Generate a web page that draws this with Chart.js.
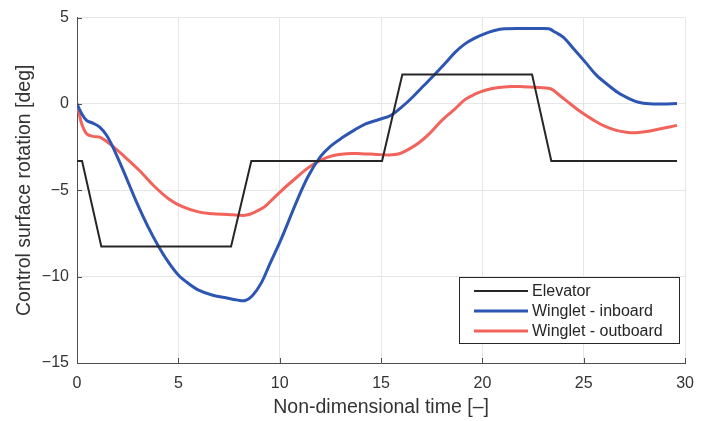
<!DOCTYPE html>
<html>
<head>
<meta charset="utf-8">
<script src="https://cdn.jsdelivr.net/npm/chart.js@4.4.1/dist/chart.umd.min.js"></script>
<style>
  html, body { margin: 0; padding: 0; background: #fff; }
  #wrap { width: 705px; height: 421px; }
</style>
</head>
<body>
<div id="wrap"><canvas id="rot"></canvas></div>
<script>
// values
const elevX = [0, 0.25, 1.2, 7.6, 8.6, 15.05, 16.05, 22.45, 23.4, 29.6];
const elevY = [-3.3, -3.3, -8.25, -8.25, -3.3, -3.3, 1.7, 1.7, -3.3, -3.3];

const inbX = [0, 0.2, 0.47, 0.8, 1.12, 1.45, 1.77, 2.3, 2.9, 3.5, 4.04, 4.5, 5.0, 5.5, 6.0, 6.7, 7.45, 7.94, 8.3, 8.65, 9.08, 9.5, 10.05, 10.86, 11.4, 12.0, 12.5, 13.13, 13.7, 14.27, 14.9, 15.49, 16.0, 16.55, 17.1, 17.68, 18.2, 18.65, 19.14, 19.6, 20.1, 20.6, 21.09, 22.0, 22.8, 23.28, 23.6, 24.0, 24.5, 25.15, 25.6, 26.12, 26.7, 27.26, 27.7, 28.24, 28.9, 29.6];
const inbY = [0, -0.5, -0.95, -1.12, -1.34, -1.8, -2.5, -3.9, -5.58, -7.1, -8.28, -9.15, -9.91, -10.4, -10.78, -11.08, -11.25, -11.36, -11.38, -11.1, -10.39, -9.3, -7.89, -5.58, -4.2, -3.07, -2.45, -1.92, -1.5, -1.14, -0.9, -0.66, -0.2, 0.39, 1.05, 1.75, 2.4, 2.99, 3.48, 3.8, 4.06, 4.25, 4.35, 4.37, 4.37, 4.35, 4.15, 3.86, 3.2, 2.32, 1.7, 1.17, 0.65, 0.3, 0.1, 0.01, 0.0, 0.03];

const outX = [0, 0.1, 0.23, 0.47, 0.8, 1.12, 1.6, 2.3, 3.07, 3.8, 4.53, 5.2, 5.99, 6.7, 7.45, 7.94, 8.3, 8.7, 9.24, 9.56, 10.2, 10.86, 11.4, 12.0, 12.6, 13.3, 14.0, 14.76, 15.4, 15.9, 16.4, 16.87, 17.4, 18.0, 18.65, 19.14, 19.6, 20.1, 20.8, 21.42, 22.0, 22.55, 23.36, 23.8, 24.33, 24.9, 25.5, 26.0, 26.61, 27.1, 27.58, 28.1, 28.72, 29.6];
const outY = [0, -0.5, -1.14, -1.72, -1.88, -1.92, -2.3, -3.0, -3.84, -4.75, -5.5, -5.95, -6.25, -6.36, -6.4, -6.44, -6.45, -6.3, -5.97, -5.62, -4.9, -4.23, -3.7, -3.27, -3.0, -2.88, -2.88, -2.92, -2.95, -2.88, -2.6, -2.25, -1.7, -0.95, -0.28, 0.25, 0.55, 0.78, 0.95, 1.01, 1.0, 0.97, 0.88, 0.5, 0.01, -0.5, -0.95, -1.27, -1.53, -1.64, -1.67, -1.6, -1.45, -1.24];

const seriesNames = ["Elevator", "Winglet - inboard", "Winglet - outboard"];
const xTicks = [0, 5, 10, 15, 20, 25, 30];
const yTicks = [-15, -10, -5, 0, 5];

const pts = (xs, ys) => xs.map((x, i) => ({ x: x, y: ys[i] }));
const FONT = 'Helvetica, Arial, "Liberation Sans", sans-serif';
const minus = v => String(v).replace('-', '\u2212');

// MATLAB-style legend box inside the axes + inward ticks
const matlabBits = {
  id: 'matlabBits',
  afterDraw(chart) {
    const c = chart.ctx, a = chart.chartArea;
    const sx = chart.scales.x, sy = chart.scales.y;
    c.save();
    c.strokeStyle = '#4d4d4d';
    c.lineWidth = 1;
    xTicks.forEach(t => {
      const px = Math.round(sx.getPixelForValue(t)) + 0.5;
      c.beginPath(); c.moveTo(px, a.bottom); c.lineTo(px, a.bottom - 5); c.stroke();
    });
    yTicks.forEach(t => {
      const py = Math.round(sy.getPixelForValue(t)) + 0.5;
      c.beginPath(); c.moveTo(a.left, py); c.lineTo(a.left + 5, py); c.stroke();
    });

    const bx = 459, by = 277, bw = 220, bh = 66;
    c.fillStyle = '#fff';
    c.fillRect(bx, by, bw, bh);
    c.strokeStyle = '#262626';
    c.strokeRect(bx + 0.5, by + 0.5, bw, bh);
    c.font = '16px ' + FONT;
    c.textBaseline = 'middle';
    chart.data.datasets.forEach((ds, i) => {
      const yy = by + 14 + i * 20;
      c.strokeStyle = ds.borderColor;
      c.lineWidth = ds.borderWidth;
      c.beginPath(); c.moveTo(bx + 15, yy); c.lineTo(bx + 69, yy); c.stroke();
      c.fillStyle = '#262626';
      c.fillText(ds.label, bx + 73, yy + 1);
    });
    c.restore();
  }
};

new Chart(document.getElementById('rot'), {
  type: 'line',
  data: {
    datasets: [
      { label: seriesNames[0], data: pts(elevX, elevY), borderColor: '#262626', borderWidth: 2, tension: 0 },
      { label: seriesNames[1], data: pts(inbX, inbY), borderColor: '#2D56B3', borderWidth: 3, tension: 0.35 },
      { label: seriesNames[2], data: pts(outX, outY), borderColor: '#F2635C', borderWidth: 3, tension: 0.35 }
    ]
  },
  options: {
    responsive: true,
    maintainAspectRatio: false,
    animation: false,
    layout: { padding: { top: 17, right: 12, left: 0, bottom: 0 } },
    elements: { point: { radius: 0 } },
    plugins: { legend: { display: false }, tooltip: { enabled: false } },
    scales: {
      x: {
        type: 'linear', min: 0, max: 30,
        afterBuildTicks: s => { s.ticks = xTicks.map(v => ({ value: v })); },
        afterFit: s => { s.height = 58; },
        grid: { color: '#e6e6e6', drawTicks: false },
        border: { color: '#4d4d4d' },
        ticks: { padding: 11, color: '#333', font: { family: FONT, size: 16 }, maxRotation: 0 },
        title: { display: true, text: 'Non-dimensional time [\u2013]', color: '#333', font: { family: FONT, size: 19.5 }, padding: { top: 0, bottom: 2 } }
      },
      y: {
        min: -15, max: 5,
        afterBuildTicks: s => { s.ticks = yTicks.map(v => ({ value: v })); },
        afterFit: s => { s.width = 77; },
        grid: { color: '#e6e6e6', drawTicks: false },
        border: { color: '#4d4d4d' },
        ticks: { padding: 8, color: '#333', font: { family: FONT, size: 16 }, callback: v => minus(v) },
        title: { display: true, text: 'Control surface rotation [deg]', color: '#333', font: { family: FONT, size: 19.5 }, padding: { top: 13, bottom: 0 } }
      }
    }
  },
  plugins: [matlabBits]
});
</script>
</body>
</html>
